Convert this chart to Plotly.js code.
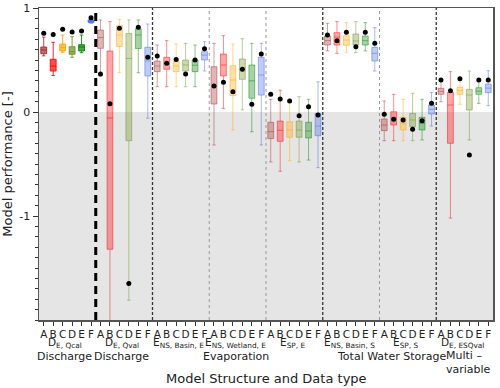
<!DOCTYPE html>
<html>
<head>
<meta charset="utf-8">
<script src="https://cdn.plot.ly/plotly-3.0.1.min.js"></script>
<style>
  body { margin: 0; background: white; }
  #plot01 { width: 500px; height: 388px; }
</style>
</head>
<body>
<div id="plot01"></div>
<script>
// model structures and evaluation groups
const models = ['A', 'B', 'C', 'D', 'E', 'F'];
const groupNames = ['D<sub>E, Qcal</sub>', 'D<sub>E, Qval</sub>', 'E<sub>NS, Basin, E</sub>', 'E<sub>NS, Wetland, E</sub>',
    'E<sub>SP, E</sub>', 'E<sub>NS, Basin, S</sub>', 'E<sub>SP, S</sub>', 'D<sub>E, ESQval</sub>'];

// one row per group, one column per model (A..F)
const whiskerLow = [
    [0.54, 0.35, 0.574, 0.526, 0.57, 0.855],
    [0.346, -2.3, 0.378, -1.81, 0.378, -0.06],
    [0.243, 0.243, 0.243, 0.243, 0.243, 0.394],
    [-0.317, 0.035, -0.173, 0.02, -0.19, -0.317],
    [-0.48, -0.57, -0.468, -0.48, -0.462, -0.535],
    [0.587, 0.564, 0.574, 0.571, 0.587, 0.394],
    [-0.276, -0.276, -0.276, -0.276, -0.269, -0.135],
    [0.099, -1.02, 0.074, -0.269, 0.083, 0.061],
];
const quart1 = [
    [0.56, 0.394, 0.587, 0.555, 0.587, 0.862],
    [0.612, -1.32, 0.63, -0.276, 0.61, 0.346],
    [0.388, 0.41, 0.388, 0.394, 0.388, 0.5],
    [0.077, 0.346, 0.157, 0.314, 0.132, 0.163],
    [-0.256, -0.282, -0.243, -0.243, -0.25, -0.228],
    [0.644, 0.644, 0.641, 0.644, 0.644, 0.49],
    [-0.18, -0.125, -0.173, -0.141, -0.173, -0.019],
    [0.17, -0.301, 0.17, 0.019, 0.17, 0.186],
];
const medians = [
    [0.596, 0.442, 0.618, 0.58, 0.625, 0.874],
    [0.715, -0.058, 0.74, 0.515, 0.74, 0.49],
    [0.442, 0.468, 0.442, 0.452, 0.45, 0.548],
    [0.25, 0.452, 0.308, 0.41, 0.30, 0.356],
    [-0.189, -0.176, -0.173, -0.173, -0.183, -0.135],
    [0.686, 0.72, 0.692, 0.683, 0.686, 0.564],
    [-0.125, -0.06, -0.109, -0.077, -0.109, 0.026],
    [0.199, 0.067, 0.205, 0.163, 0.2, 0.23],
];
const quart3 = [
    [0.625, 0.507, 0.654, 0.628, 0.647, 0.885],
    [0.788, 0.587, 0.83, 0.755, 0.8, 0.622],
    [0.49, 0.526, 0.49, 0.5, 0.5, 0.58],
    [0.436, 0.558, 0.445, 0.51, 0.452, 0.526],
    [-0.099, -0.087, -0.093, -0.087, -0.099, -0.013],
    [0.731, 0.763, 0.734, 0.75, 0.731, 0.622],
    [-0.067, 0.003, -0.051, -0.013, -0.051, 0.067],
    [0.228, 0.189, 0.237, 0.218, 0.234, 0.269],
];
const whiskerHigh = [
    [0.72, 0.67, 0.74, 0.724, 0.74, 0.892],
    [0.885, 0.87, 0.89, 0.885, 0.885, 0.846],
    [0.644, 0.686, 0.654, 0.66, 0.644, 0.676],
    [0.66, 0.734, 0.654, 0.705, 0.66, 0.66],
    [0.122, 0.21, 0.122, 0.147, 0.122, 0.29],
    [0.853, 0.869, 0.859, 0.869, 0.859, 0.811],
    [0.106, 0.17, 0.122, 0.18, 0.122, 0.189],
    [0.317, 0.388, 0.317, 0.394, 0.317, 0.397],
];
// reference model value (black dots)
const refValue = [
    [0.757, 0.744, 0.795, 0.77, 0.78, 0.907],
    [0.365, 0.08, 0.805, -1.65, 0.814, 0.526],
    [0.538, 0.468, 0.506, 0.365, 0.5, 0.609],
    [0.25, 0.285, 0.195, 0.41, 0.074, 0.558],
    [0.17, 0.125, 0.106, -0.035, 0.051, -0.029],
    [0.74, 0.686, 0.766, 0.628, 0.766, 0.66],
    [-0.022, -0.07, -0.077, -0.167, -0.083, 0.083],
    [0.308, 0.205, 0.32, -0.413, 0.308, 0.308],
];

const modelRgb = ['165,42,42', '255,0,0', '255,165,0', '107,142,35', '0,128,0', '65,105,225'];

const data = [];
const dotX = [];
const dotY = [];
groupNames.forEach((g, gi) => {
    models.forEach((m, mi) => {
        const x = gi * 6 + mi;
        const cal = gi === 0;
        data.push({
            type: 'box',
            x: [x],
            lowerfence: [whiskerLow[gi][mi]],
            q1: [quart1[gi][mi]],
            median: [medians[gi][mi]],
            q3: [quart3[gi][mi]],
            upperfence: [whiskerHigh[gi][mi]],
            boxpoints: false,
            width: 0.62,
            whiskerwidth: 0.6,
            fillcolor: `rgba(${modelRgb[mi]},${cal ? 0.7 : 0.35})`,
            line: { color: `rgba(${modelRgb[mi]},${cal ? 0.85 : 0.45})`, width: 1 },
            hoverinfo: 'skip',
        });
        dotX.push(x);
        dotY.push(refValue[gi][mi]);
    });
});
data.push({
    type: 'scatter',
    mode: 'markers',
    x: dotX,
    y: dotY,
    marker: { color: 'black', size: 5 },
    hoverinfo: 'skip',
});

const tickVals = [];
const tickText = [];
for (let i = 0; i < groupNames.length * 6; i++) {
    tickVals.push(i);
    tickText.push(models[i % 6]);
}

// separators between groups
const sepStyle = [
    { color: 'black', width: 3, dash: '8px,5px' },
    { color: '#333', width: 1.3, dash: '3px,2px' },
    { color: '#999', width: 1, dash: 'dot' },
    { color: '#999', width: 1, dash: 'dot' },
    { color: '#333', width: 1.3, dash: '3px,2px' },
    { color: '#999', width: 1, dash: 'dot' },
    { color: '#333', width: 1.3, dash: '3px,2px' },
];
const shapes = [{
    type: 'rect', xref: 'paper', yref: 'y', x0: 0, x1: 1, y0: -2, y1: 0,
    fillcolor: '#e5e5e5', line: { width: 0 }, layer: 'below'
}];
sepStyle.forEach((s, i) => {
    shapes.push({
        type: 'line', xref: 'x', yref: 'paper', x0: i * 6 + 5.5, x1: i * 6 + 5.5, y0: 0, y1: 1,
        line: s, layer: 'above'
    });
});

const annotations = [];
groupNames.forEach((g, gi) => {
    annotations.push({
        xref: 'x', yref: 'paper', x: gi * 6 + 2.3, y: -0.074, text: g,
        showarrow: false, xanchor: 'center', yanchor: 'middle',
        font: { size: 10.5, color: '#222' }
    });
});
const secondLine = [
    { x: 2.2, y: -0.116, text: 'Discharge', anchor: 'center' },
    { x: 8.2, y: -0.116, text: 'Discharge', anchor: 'center' },
    { x: 20.3, y: -0.116, text: 'Evaporation', anchor: 'center' },
    { x: 36.8, y: -0.116, text: 'Total Water Storage', anchor: 'center' },
    { x: 42.3, y: -0.135, text: 'Multi \u2013<br>variable', anchor: 'left' },
];
secondLine.forEach(s => {
    annotations.push({
        xref: 'x', yref: 'paper', x: s.x, y: s.y, text: s.text,
        showarrow: false, xanchor: s.anchor, yanchor: 'middle', align: 'left',
        font: { size: 11, color: '#222' }
    });
});
annotations.push({
    xref: 'paper', yref: 'paper', x: 0.5, y: -0.186, text: 'Model Structure and Data type',
    showarrow: false, xanchor: 'center', yanchor: 'middle',
    font: { size: 13, color: '#222' }
});

const layout = {
    width: 500,
    height: 388,
    margin: { l: 39, r: 7, t: 8, b: 68 },
    font: { family: 'DejaVu Sans', color: '#222' },
    showlegend: false,
    boxmode: 'overlay',
    paper_bgcolor: 'white',
    plot_bgcolor: 'white',
    xaxis: {
        range: [-0.5, groupNames.length * 6 - 0.5],
        tickmode: 'array',
        tickvals: tickVals,
        ticktext: tickText,
        tickangle: 0,
        ticks: 'outside',
        ticklen: 4,
        tickcolor: '#333',
        tickfont: { size: 10.5, color: '#222' },
        showgrid: false,
        zeroline: false,
        showline: true,
        mirror: true,
        linecolor: '#555',
        linewidth: 1.5,
    },
    yaxis: {
        range: [-2, 1],
        tickmode: 'array',
        tickvals: [-1, 0, 1],
        ticktext: ['-1', '0', '1'],
        ticks: 'outside',
        ticklen: 5,
        tickcolor: '#333',
        tickfont: { size: 11, color: '#222' },
        minor: { tickmode: 'linear', tick0: 0, dtick: 0.1, ticks: 'outside', ticklen: 3, tickcolor: '#333', showgrid: false },
        showgrid: false,
        zeroline: false,
        showline: true,
        mirror: true,
        linecolor: '#555',
        linewidth: 1.5,
        title: { text: 'Model performance [-]', font: { size: 13, color: '#222' }, standoff: 6 },
    },
    shapes: shapes,
    annotations: annotations,
};

Plotly.newPlot('plot01', data, layout, { displayModeBar: false, staticPlot: true });
</script>
</body>
</html>
